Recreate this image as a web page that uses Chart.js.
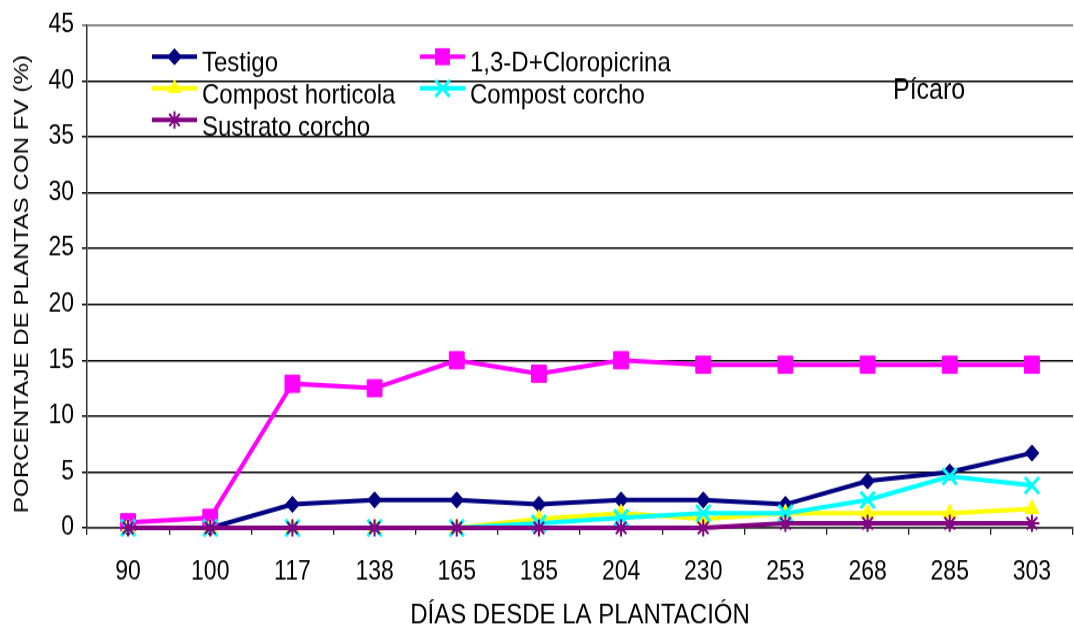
<!DOCTYPE html>
<html lang="es">
<head>
<meta charset="utf-8">
<title>Pícaro – porcentaje de plantas con FV</title>
<script src="https://cdn.jsdelivr.net/npm/chart.js@4/dist/chart.umd.min.js"></script>
<style>
  html, body { margin: 0; padding: 0; background: #fff; overflow: hidden; width: 1074px; height: 628px; }
  #wrap { width: 1086px; height: 546px; transform: scaleY(1.15); transform-origin: 0 0; }
  canvas { display: block; }
</style>
</head>
<body>
<div id="wrap"><canvas id="chart" width="1086" height="546"></canvas></div>
<script>
// Días desde la plantación (eje X)
const dias = ['90', '100', '117', '138', '165', '185', '204', '230', '253', '268', '285', '303'];

// Porcentaje de plantas con FV por tratamiento
const testigo        = [0, 0, 2.1, 2.5, 2.5, 2.1, 2.5, 2.5, 2.1, 4.2, 5.0, 6.7];
const cloropicrina   = [0.5, 0.9, 12.9, 12.5, 15.0, 13.8, 15.0, 14.6, 14.6, 14.6, 14.6, 14.6];
const compostHort    = [0, 0, 0, 0, 0, 0.8, 1.3, 0.8, 1.3, 1.3, 1.3, 1.7];
const compostCorcho  = [0, 0, 0, 0, 0, 0.4, 0.9, 1.3, 1.3, 2.5, 4.6, 3.8];
const sustratoCorcho = [0, 0, 0, 0, 0, 0, 0, 0, 0.4, 0.4, 0.4, 0.4];

// Etiquetas
const nombres = ['Testigo', '1,3-D+Cloropicrina', 'Compost horticola', 'Compost corcho', 'Sustrato corcho'];
const yTicks = [0, 5, 10, 15, 20, 25, 30, 35, 40, 45];
const tituloY = 'PORCENTAJE DE PLANTAS CON FV (%)';
const tituloX = 'DÍAS DESDE LA PLANTACIÓN';
const variedad = 'Pícaro';

const FONT = "'Liberation Sans', Arial, sans-serif";

function serie(label, data, color, style, radius, pbw, order) {
  return {
    label, data, order,
    borderColor: color,
    backgroundColor: color,
    borderWidth: 4,
    pointStyle: style,
    pointRadius: radius,
    pointHoverRadius: radius,
    pointBackgroundColor: color,
    pointBorderColor: color,
    pointBorderWidth: pbw,
    tension: 0,
    clip: false
  };
}

const datasets = [
  serie(nombres[0], testigo,        '#000080', 'rectRot',  7,    1, 5),
  serie(nombres[1], cloropicrina,   '#FF00FF', 'rect',     10.5, 1, 4),
  serie(nombres[2], compostHort,    '#FFFF00', 'triangle', 8,    1, 3),
  serie(nombres[3], compostCorcho,  '#00FFFF', 'crossRot', 10,   3, 2),
  serie(nombres[4], sustratoCorcho, '#800080', 'star',     7.5,  2, 1)
];

// Marcador de leyenda dibujado con el mismo estilo que los puntos
function marker(ctx, style, x, y, r, color, bw) {
  ctx.save();
  ctx.fillStyle = color;
  ctx.strokeStyle = color;
  ctx.lineWidth = bw;
  ctx.beginPath();
  const d = Math.SQRT1_2 * r;
  if (style === 'rect') {
    ctx.rect(x - d, y - d, 2 * d, 2 * d);
    ctx.fill();
  } else if (style === 'rectRot') {
    ctx.moveTo(x - r, y); ctx.lineTo(x, y - r); ctx.lineTo(x + r, y); ctx.lineTo(x, y + r);
    ctx.closePath(); ctx.fill(); ctx.stroke();
  } else if (style === 'triangle') {
    for (let i = 0; i < 3; i++) {
      const a = -Math.PI / 2 + i * 2 * Math.PI / 3;
      const px = x + Math.cos(a) * r, py = y + Math.sin(a) * r;
      if (i === 0) ctx.moveTo(px, py); else ctx.lineTo(px, py);
    }
    ctx.closePath(); ctx.fill();
  } else if (style === 'crossRot' || style === 'star') {
    ctx.moveTo(x - d, y - d); ctx.lineTo(x + d, y + d);
    ctx.moveTo(x - d, y + d); ctx.lineTo(x + d, y - d);
    if (style === 'star') {
      ctx.moveTo(x, y - r); ctx.lineTo(x, y + r);
      ctx.moveTo(x - r, y); ctx.lineTo(x + r, y);
    }
    ctx.stroke();
  }
  ctx.restore();
}

// Leyenda en dos columnas dentro del área del gráfico, rótulo de la variedad
// y título vertical del eje Y
const rotulos = {
  id: 'rotulos',
  afterDraw(chart, args, opts) {
    const ctx = chart.ctx;
    chart.data.datasets.forEach((ds, i) => {
      const pos = opts.items[i];
      ctx.save();
      ctx.strokeStyle = ds.borderColor;
      ctx.lineWidth = 4;
      ctx.beginPath();
      ctx.moveTo(pos.x, pos.lineY);
      ctx.lineTo(pos.x + opts.sampleWidth, pos.lineY);
      ctx.stroke();
      ctx.restore();
      marker(ctx, ds.pointStyle, pos.x + opts.sampleWidth / 2, pos.lineY, ds.pointRadius, ds.borderColor, ds.pointBorderWidth);
      ctx.save();
      ctx.fillStyle = '#000';
      ctx.font = opts.font;
      ctx.textBaseline = 'alphabetic';
      ctx.textAlign = 'left';
      ctx.fillText(ds.label, pos.x + opts.textGap, pos.textY);
      ctx.restore();
    });

    ctx.save();
    ctx.fillStyle = '#000';
    ctx.font = opts.tagFont;
    ctx.textBaseline = 'alphabetic';
    ctx.fillText(variedad, opts.tag.x, opts.tag.y);
    ctx.restore();

    ctx.save();
    ctx.fillStyle = '#000';
    ctx.font = opts.yTitleFont;
    ctx.textAlign = 'center';
    ctx.textBaseline = 'middle';
    ctx.translate(opts.yTitle.x, opts.yTitle.y);
    ctx.rotate(-Math.PI / 2);
    ctx.fillText(tituloY, 0, 0);
    ctx.restore();
  }
};

new Chart(document.getElementById('chart'), {
  type: 'line',
  data: { labels: dias, datasets },
  plugins: [rotulos],
  options: {
    responsive: false,
    animation: false,
    devicePixelRatio: 1,
    layout: { padding: { top: 16.5, left: 0, right: 0, bottom: 0 } },
    plugins: {
      legend: { display: false },
      tooltip: { enabled: false },
      rotulos: {
        font: '24px ' + FONT,
        tagFont: '25px ' + FONT,
        yTitleFont: '21px ' + FONT,
        sampleWidth: 45,
        textGap: 50,
        items: [
          { x: 152, lineY: 49.3,  textY: 62.3 },
          { x: 420, lineY: 49.3,  textY: 62.3 },
          { x: 152, lineY: 76.8,  textY: 89.8 },
          { x: 420, lineY: 76.8,  textY: 89.8 },
          { x: 152, lineY: 104.3, textY: 118 }
        ],
        tag: { x: 893, y: 85.5 },
        yTitle: { x: 22, y: 247 }
      }
    },
    scales: {
      x: {
        type: 'category',
        offset: true,
        grid: {
          offset: true,
          drawOnChartArea: false,
          drawTicks: true,
          tickLength: 6,
          color: '#222',
          lineWidth: 1.3
        },
        border: { display: true, color: '#333', width: 1.5 },
        ticks: { color: '#000', font: { family: FONT, size: 23 }, padding: 19, maxRotation: 0, autoSkip: false },
        title: {
          display: true,
          text: tituloX,
          color: '#000',
          font: { family: FONT, size: 24, lineHeight: 0.9 },
          padding: { top: 0, bottom: 0 }
        },
        afterFit(scale) { scale.height = 87; }
      },
      y: {
        min: 0,
        max: 45,
        afterBuildTicks(scale) { scale.ticks = yTicks.map(v => ({ value: v })); },
        grid: {
          color: (c) => (c.tick && c.tick.value === 45 ? '#8a8a8a' : '#000'),
          lineWidth: (c) => (c.tick && c.tick.value === 45 ? 2 : 1.5),
          drawTicks: true,
          tickLength: 5
        },
        border: { display: true, color: '#333', width: 1.5 },
        ticks: { color: '#000', font: { family: FONT, size: 23 }, padding: 8 },
        title: { display: false },
        afterFit(scale) { scale.width = 87; }
      }
    }
  }
});
</script>
</body>
</html>
